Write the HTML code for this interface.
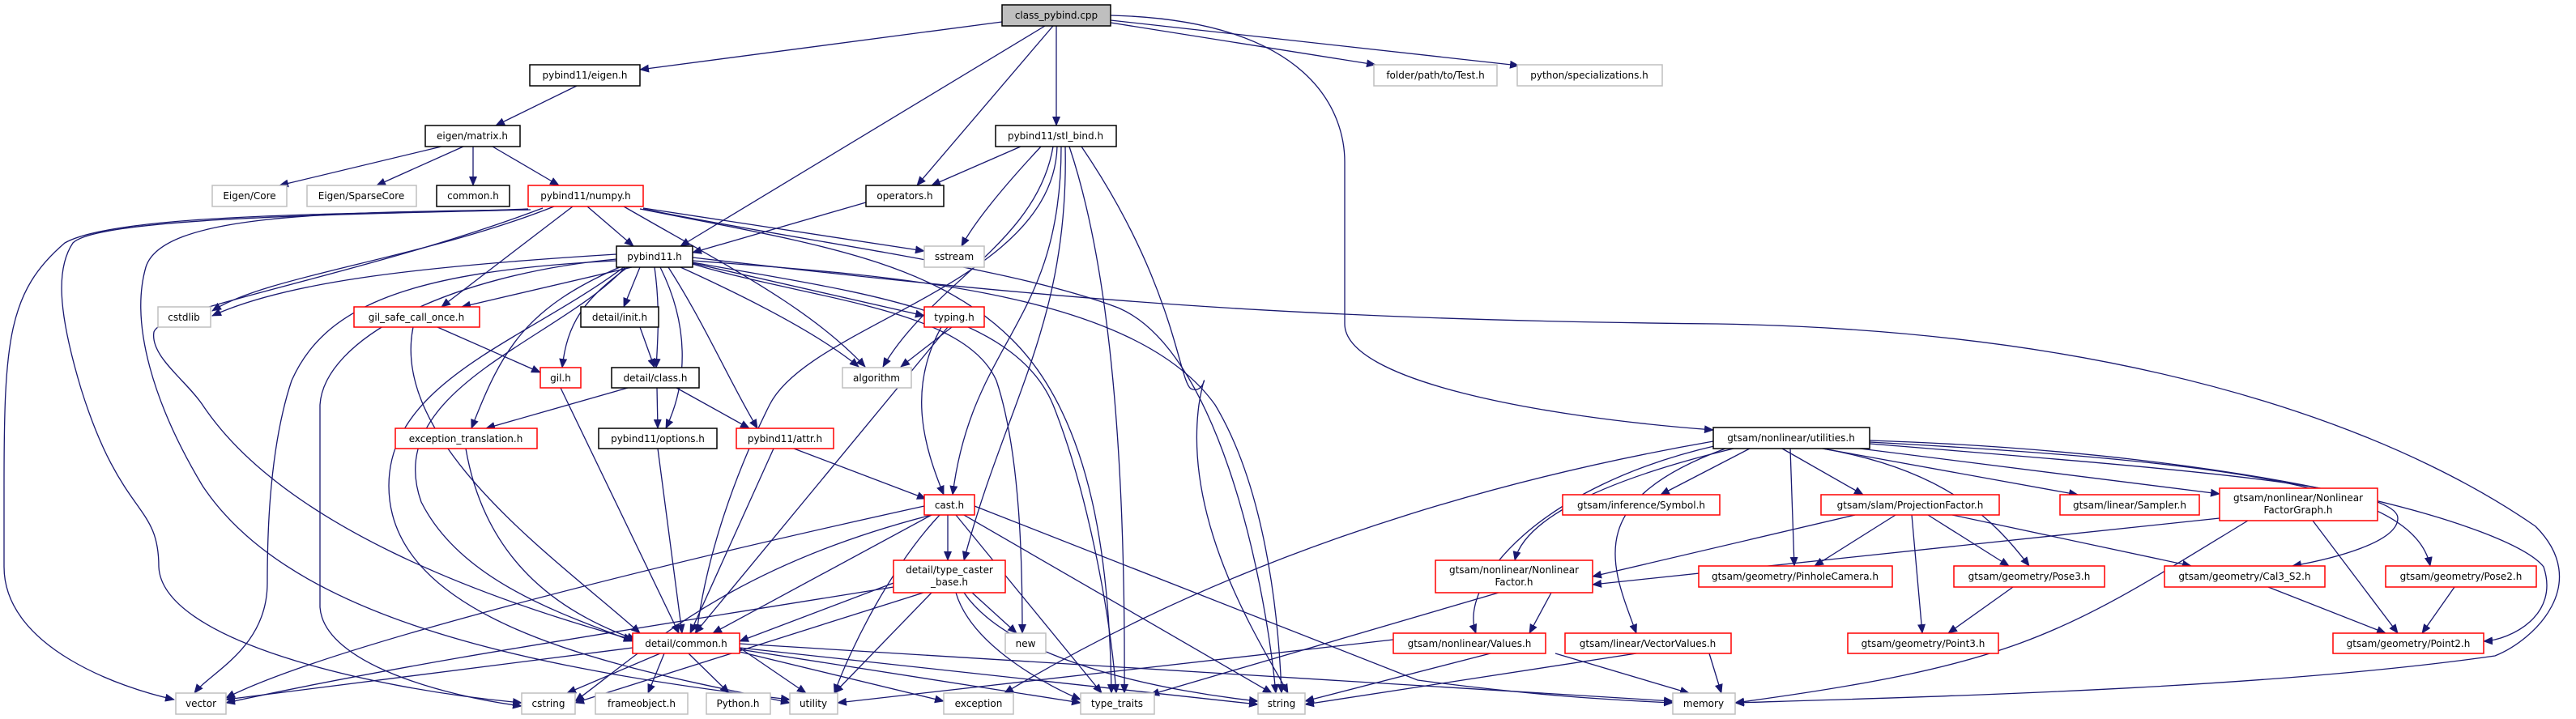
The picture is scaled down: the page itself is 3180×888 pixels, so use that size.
<!DOCTYPE html>
<html><head><meta charset="utf-8">
<style>
html,body{margin:0;padding:0;background:#fff;}
svg{display:block;}
text{font-family:"DejaVu Sans","Liberation Sans",sans-serif;font-size:12px;fill:#000;text-anchor:middle;}
.e{fill:none;stroke:#191970;stroke-width:1.3;marker-end:url(#a);}
.g{fill:#fff;stroke:#bfbfbf;stroke-width:1.5;}
.k{fill:#fff;stroke:#000;stroke-width:1.5;}
.r{fill:#fff;stroke:#ff0000;stroke-width:1.5;}
</style></head><body>
<svg width="3180" height="888" viewBox="0 0 3180 888" xmlns="http://www.w3.org/2000/svg">
<defs><marker id="a" markerUnits="userSpaceOnUse" markerWidth="12" markerHeight="10" refX="11" refY="5" orient="auto"><path d="M0,0 L12,5 L0,10 z" fill="#191970"/></marker></defs>
<rect width="3180" height="888" fill="#fff"/>
<g>
<path class="e" d="M1237,27 L790,86"/>
<path class="e" d="M1290,32 L840,304"/>
<path class="e" d="M1300,32 L1132,229"/>
<path class="e" d="M1304,32 L1304,155"/>
<path class="e" d="M1371,28 L1698,80"/>
<path class="e" d="M1371,25 L1875,81"/>
<path class="e" d="M1371,19 C1620,25 1660,140 1660,200 L1660,400 C1660,470 1900,515 2115,531"/>
<path class="e" d="M712,106 L612,155"/>
<path class="e" d="M545,181 L345,229"/>
<path class="e" d="M572,181 L465,229"/>
<path class="e" d="M584,181 L584,229"/>
<path class="e" d="M608,181 L690,229"/>
<path class="e" d="M725,255 L782,304"/>
<path class="e" d="M684,255 C520,320 330,340 262,384"/>
<path class="e" d="M707,255 L545,379"/>
<path class="e" d="M652,258 C500,265 150,260 80,300 C10,360 5,420 5,600 L5,700 C5,800 150,850 215,864"/>
<path class="e" d="M652,259 C400,265 120,270 90,300 C70,330 70,380 100,480 C150,640 196,620 196,700 C200,790 450,850 644,868"/>
<path class="e" d="M655,259 C400,262 200,265 180,330 C160,400 190,500 250,600 C350,750 600,820 975,864"/>
<path class="e" d="M670,257 C450,340 200,380 190,410 C185,440 230,470 250,500 C350,650 600,740 781,790"/>
<path class="e" d="M794,257 L1141,310"/>
<path class="e" d="M770,255 C900,330 1000,380 1068,453"/>
<path class="e" d="M794,258 C1000,300 1250,330 1380,380 C1500,430 1560,700 1575,856"/>
<path class="e" d="M790,258 C1000,300 1150,320 1250,420 C1350,520 1370,700 1372,856"/>
<path class="e" d="M761,314 C500,330 350,350 262,390"/>
<path class="e" d="M780,330 L570,379"/>
<path class="e" d="M790,330 L770,379"/>
<path class="e" d="M775,330 C720,370 700,400 694,454"/>
<path class="e" d="M808,330 C815,380 812,420 810,454"/>
<path class="e" d="M765,330 C650,380 620,430 582,529"/>
<path class="e" d="M815,330 C850,400 850,470 822,529"/>
<path class="e" d="M825,330 C870,400 900,470 935,529"/>
<path class="e" d="M855,325 L1141,390"/>
<path class="e" d="M840,330 C950,380 1020,420 1060,453"/>
<path class="e" d="M761,322 C500,335 400,380 360,470 C330,560 330,680 330,720 C330,800 260,830 240,856"/>
<path class="e" d="M761,320 C550,340 400,420 395,500 L395,750 C400,820 550,860 644,872"/>
<path class="e" d="M770,330 C650,420 480,470 480,600 C480,780 800,830 975,868"/>
<path class="e" d="M772,330 C690,420 470,480 520,620 C570,720 700,760 781,792"/>
<path class="e" d="M855,326 C1000,370 1190,380 1230,470 C1260,560 1262,700 1262,782"/>
<path class="e" d="M855,322 C1100,340 1400,360 1500,500 C1560,600 1578,750 1582,856"/>
<path class="e" d="M855,324 C1050,360 1250,380 1300,500 C1340,600 1370,750 1378,856"/>
<path class="e" d="M855,318 C1300,370 1600,395 2120,400 C2700,410 3000,560 3130,650 C3200,720 3130,790 3080,810 C2800,850 2400,860 2142,868"/>
<path class="e" d="M1069,250 L855,312"/>
<path class="e" d="M1260,181 L1150,229"/>
<path class="e" d="M1285,181 C1230,240 1200,280 1187,304"/>
<path class="e" d="M1300,181 C1280,300 1150,350 1090,453"/>
<path class="e" d="M1310,181 C1310,400 1200,420 1176,611"/>
<path class="e" d="M1315,181 C1320,400 1240,500 1190,692"/>
<path class="e" d="M1305,181 C1300,350 1000,400 950,500 C900,600 870,700 860,782"/>
<path class="e" d="M1320,181 C1360,300 1390,500 1388,856"/>
<path class="e" d="M1335,181 C1450,350 1455,470 1470,480 C1490,490 1490,440 1480,500 C1460,650 1560,800 1590,856"/>
<path class="e" d="M540,404 L667,460"/>
<path class="e" d="M510,404 C480,550 700,700 790,782"/>
<path class="e" d="M790,404 L808,454"/>
<path class="e" d="M775,479 L600,529"/>
<path class="e" d="M811,479 L812,529"/>
<path class="e" d="M835,479 L925,529"/>
<path class="e" d="M692,479 L838,782"/>
<path class="e" d="M575,554 C600,700 700,760 785,790"/>
<path class="e" d="M812,554 L842,782"/>
<path class="e" d="M955,554 L852,782"/>
<path class="e" d="M980,554 L1143,616"/>
<path class="e" d="M1175,404 L1112,453"/>
<path class="e" d="M1162,404 C1120,480 1140,550 1165,611"/>
<path class="e" d="M1170,404 L858,782"/>
<path class="e" d="M1170,636 L1170,692"/>
<path class="e" d="M1150,636 L880,782"/>
<path class="e" d="M1141,625 C800,700 400,800 279,862"/>
<path class="e" d="M1150,636 C900,700 800,800 710,866"/>
<path class="e" d="M1160,636 C1100,700 1050,800 1030,856"/>
<path class="e" d="M1180,636 L1360,856"/>
<path class="e" d="M1190,636 L1570,856"/>
<path class="e" d="M1203,625 L1750,840 C1900,860 2000,865 2065,868"/>
<path class="e" d="M1200,732 L1255,782"/>
<path class="e" d="M1103,720 L913,792"/>
<path class="e" d="M1103,725 C700,790 500,820 279,868"/>
<path class="e" d="M1140,732 L710,868"/>
<path class="e" d="M1150,732 L1030,856"/>
<path class="e" d="M1180,732 C1200,800 1300,850 1334,864"/>
<path class="e" d="M1190,732 C1250,820 1450,855 1553,866"/>
<path class="e" d="M781,800 L279,864"/>
<path class="e" d="M815,807 L700,856"/>
<path class="e" d="M820,807 L800,856"/>
<path class="e" d="M850,807 L900,856"/>
<path class="e" d="M913,800 L995,856"/>
<path class="e" d="M913,805 L1165,866"/>
<path class="e" d="M913,802 L1334,868"/>
<path class="e" d="M913,800 L1553,870"/>
<path class="e" d="M913,795 L2065,866"/>
<path class="e" d="M2160,554 L2050,611"/>
<path class="e" d="M2140,554 C1950,600 1880,650 1870,692"/>
<path class="e" d="M2120,550 C1900,600 1800,720 1822,782"/>
<path class="e" d="M2130,554 C1950,620 1990,700 2020,782"/>
<path class="e" d="M2115,545 C1800,600 1500,700 1240,856"/>
<path class="e" d="M2200,554 L2300,611"/>
<path class="e" d="M2210,554 L2215,699"/>
<path class="e" d="M2250,554 C2400,580 2460,640 2505,699"/>
<path class="e" d="M2250,554 L2565,611"/>
<path class="e" d="M2280,552 L2740,610"/>
<path class="e" d="M2308,548 C2700,580 2960,600 2960,640 C2960,670 2880,690 2830,699"/>
<path class="e" d="M2308,546 C2750,570 2980,600 3000,699"/>
<path class="e" d="M2308,544 C2800,560 3100,650 3140,700 C3160,760 3100,790 3066,792"/>
<path class="e" d="M2290,636 L1966,712"/>
<path class="e" d="M2340,636 L2240,699"/>
<path class="e" d="M2360,636 L2373,782"/>
<path class="e" d="M2380,636 L2480,699"/>
<path class="e" d="M2410,636 L2705,699"/>
<path class="e" d="M2740,640 L1966,722"/>
<path class="e" d="M2775,643 C2550,780 2500,820 2142,868"/>
<path class="e" d="M2855,643 L2960,782"/>
<path class="e" d="M1915,732 L1888,782"/>
<path class="e" d="M1850,732 L1420,858"/>
<path class="e" d="M1720,790 L1034,868"/>
<path class="e" d="M1840,807 L1611,866"/>
<path class="e" d="M1920,807 L2085,856"/>
<path class="e" d="M2020,807 L1611,870"/>
<path class="e" d="M2110,807 L2125,856"/>
<path class="e" d="M2485,725 L2405,782"/>
<path class="e" d="M2800,725 L2945,782"/>
<path class="e" d="M3030,725 L2990,782"/>
</g>
<g>
<rect x="1237" y="6" width="134" height="26" fill="#bfbfbf" stroke="#000" stroke-width="1.5"/><text x="1304" y="23">class_pybind.cpp</text>
<rect class="k" x="654" y="80" width="136" height="26"/><text x="722" y="97">pybind11/eigen.h</text>
<rect class="g" x="1696" y="80" width="152" height="26"/><text x="1772" y="97">folder/path/to/Test.h</text>
<rect class="g" x="1873" y="80" width="179" height="26"/><text x="1962" y="97">python/specializations.h</text>
<rect class="k" x="525" y="155" width="117" height="26"/><text x="583" y="172">eigen/matrix.h</text>
<rect class="k" x="1229" y="155" width="149" height="26"/><text x="1303" y="172">pybind11/stl_bind.h</text>
<rect class="g" x="262" y="229" width="92" height="26"/><text x="308" y="246">Eigen/Core</text>
<rect class="g" x="379" y="229" width="135" height="26"/><text x="446" y="246">Eigen/SparseCore</text>
<rect class="k" x="539" y="229" width="90" height="26"/><text x="584" y="246">common.h</text>
<rect class="r" x="652" y="229" width="142" height="26"/><text x="723" y="246">pybind11/numpy.h</text>
<rect class="k" x="1069" y="229" width="96" height="26"/><text x="1117" y="246">operators.h</text>
<rect class="k" x="761" y="304" width="94" height="26"/><text x="808" y="321">pybind11.h</text>
<rect class="g" x="1141" y="304" width="74" height="26"/><text x="1178" y="321">sstream</text>
<rect class="g" x="195" y="379" width="65" height="25"/><text x="227" y="396">cstdlib</text>
<rect class="r" x="437" y="379" width="155" height="25"/><text x="514" y="396">gil_safe_call_once.h</text>
<rect class="k" x="717" y="379" width="96" height="25"/><text x="765" y="396">detail/init.h</text>
<rect class="r" x="1141" y="379" width="74" height="25"/><text x="1178" y="396">typing.h</text>
<rect class="r" x="667" y="454" width="50" height="25"/><text x="692" y="471">gil.h</text>
<rect class="k" x="755" y="454" width="108" height="25"/><text x="809" y="471">detail/class.h</text>
<rect class="g" x="1040" y="454" width="85" height="25"/><text x="1082" y="471">algorithm</text>
<rect class="r" x="488" y="529" width="175" height="25"/><text x="575" y="546">exception_translation.h</text>
<rect class="k" x="739" y="529" width="146" height="25"/><text x="812" y="546">pybind11/options.h</text>
<rect class="r" x="909" y="529" width="120" height="25"/><text x="969" y="546">pybind11/attr.h</text>
<rect class="k" x="2115" y="528" width="193" height="26"/><text x="2211" y="545">gtsam/nonlinear/utilities.h</text>
<rect class="r" x="1141" y="611" width="62" height="25"/><text x="1172" y="628">cast.h</text>
<rect class="r" x="1929" y="611" width="194" height="25"/><text x="2026" y="628">gtsam/inference/Symbol.h</text>
<rect class="r" x="2248" y="611" width="220" height="25"/><text x="2358" y="628">gtsam/slam/ProjectionFactor.h</text>
<rect class="r" x="2543" y="611" width="172" height="25"/><text x="2629" y="628">gtsam/linear/Sampler.h</text>
<rect class="r" x="2740" y="603" width="195" height="40"/><text x="2837" y="619">gtsam/nonlinear/Nonlinear</text><text x="2837" y="634">FactorGraph.h</text>
<rect class="r" x="1103" y="692" width="138" height="40"/><text x="1172" y="708">detail/type_caster</text><text x="1172" y="723">_base.h</text>
<rect class="r" x="1772" y="692" width="194" height="40"/><text x="1869" y="708">gtsam/nonlinear/Nonlinear</text><text x="1869" y="723">Factor.h</text>
<rect class="r" x="2097" y="699" width="239" height="26"/><text x="2216" y="716">gtsam/geometry/PinholeCamera.h</text>
<rect class="r" x="2412" y="699" width="186" height="26"/><text x="2505" y="716">gtsam/geometry/Pose3.h</text>
<rect class="r" x="2672" y="699" width="198" height="26"/><text x="2771" y="716">gtsam/geometry/Cal3_S2.h</text>
<rect class="r" x="2945" y="699" width="186" height="26"/><text x="3038" y="716">gtsam/geometry/Pose2.h</text>
<rect class="r" x="781" y="782" width="132" height="25"/><text x="847" y="799">detail/common.h</text>
<rect class="g" x="1241" y="782" width="50" height="25"/><text x="1266" y="799">new</text>
<rect class="r" x="1720" y="782" width="188" height="25"/><text x="1814" y="799">gtsam/nonlinear/Values.h</text>
<rect class="r" x="1932" y="782" width="205" height="25"/><text x="2034" y="799">gtsam/linear/VectorValues.h</text>
<rect class="r" x="2281" y="782" width="186" height="25"/><text x="2374" y="799">gtsam/geometry/Point3.h</text>
<rect class="r" x="2880" y="782" width="186" height="25"/><text x="2973" y="799">gtsam/geometry/Point2.h</text>
<rect class="g" x="217" y="856" width="62" height="26"/><text x="248" y="873">vector</text>
<rect class="g" x="644" y="856" width="66" height="26"/><text x="677" y="873">cstring</text>
<rect class="g" x="735" y="856" width="114" height="26"/><text x="792" y="873">frameobject.h</text>
<rect class="g" x="872" y="856" width="79" height="26"/><text x="911" y="873">Python.h</text>
<rect class="g" x="975" y="856" width="59" height="26"/><text x="1004" y="873">utility</text>
<rect class="g" x="1165" y="856" width="86" height="26"/><text x="1208" y="873">exception</text>
<rect class="g" x="1334" y="856" width="91" height="26"/><text x="1379" y="873">type_traits</text>
<rect class="g" x="1553" y="856" width="58" height="26"/><text x="1582" y="873">string</text>
<rect class="g" x="2065" y="856" width="77" height="26"/><text x="2103" y="873">memory</text>
</g>
</svg>
</body></html>
